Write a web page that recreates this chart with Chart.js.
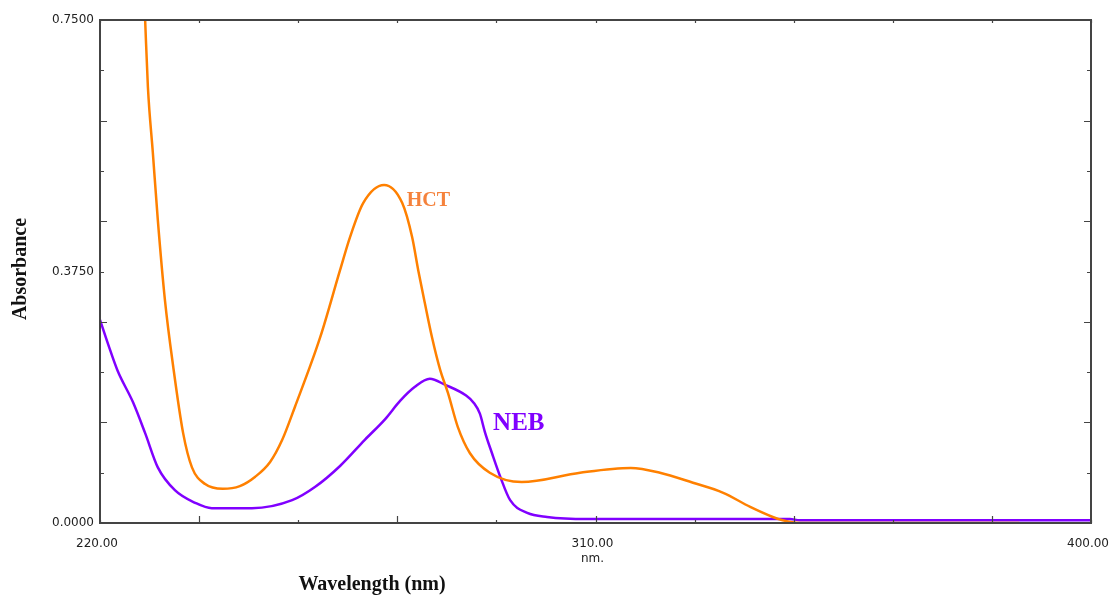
<!DOCTYPE html>
<html>
<head>
<meta charset="utf-8">
<script src="https://cdn.jsdelivr.net/npm/chart.js@4.4.0/dist/chart.umd.min.js"></script>
<style>
  body { margin: 0; background: #fff; }
  canvas { display: block; }
</style>
</head>
<body>
<canvas id="spectrum" width="1111" height="597"></canvas>
<script>
// Spektrum HCT (oranye)
const hctWavelength = [228.2, 228.7, 229.6, 230.5, 231.8, 233.3, 235.1, 236.7, 239.1, 242.3, 245.4, 248.2,
    250.9, 253.1, 255.4, 260.0, 263.6, 265.4, 267.8, 271.6, 274.9, 276.7, 277.8, 279.0, 280.3, 281.8,
    283.2, 285.0, 287.2, 290.8, 296.6, 307.2, 316.4, 321.7, 327.7, 333.2, 338.1, 342.2, 344.0, 347.1, 387.0];
const hctAbsorbance = [0.750, 0.650, 0.552, 0.452, 0.332, 0.233, 0.134, 0.083, 0.058, 0.051, 0.055, 0.069,
    0.091, 0.124, 0.173, 0.277, 0.377, 0.426, 0.477, 0.504, 0.477, 0.426, 0.377, 0.328, 0.277, 0.228,
    0.194, 0.143, 0.104, 0.075, 0.061, 0.075, 0.082, 0.075, 0.060, 0.045, 0.024, 0.009, 0.004, 0.000, 0.000];

// Spektrum NEB (ungu)
const nebWavelength = [220.0, 221.5, 223.2, 226.0, 228.2, 230.5, 233.6, 237.3, 240.3, 247.6, 254.9, 259.1,
    263.6, 268.1, 271.8, 274.5, 277.2, 279.9, 282.7, 286.5, 287.9, 289.0, 289.9, 291.2, 292.7, 294.5,
    297.6, 301.2, 308.5, 345.3, 347.1, 400.0];
const nebAbsorbance = [0.303, 0.266, 0.227, 0.180, 0.134, 0.083, 0.049, 0.030, 0.022, 0.022, 0.034, 0.054,
    0.085, 0.124, 0.155, 0.182, 0.203, 0.215, 0.206, 0.190, 0.179, 0.163, 0.136, 0.104, 0.069, 0.034,
    0.015, 0.009, 0.006, 0.006, 0.004, 0.004];

// Label sumbu
const xTickValues = [220, 238, 256, 274, 292, 310, 328, 346, 364, 382, 400];
const xLabelValues = [220, 310, 400];
const yTickValues = [0, 0.075, 0.15, 0.225, 0.3, 0.375, 0.45, 0.525, 0.6, 0.675, 0.75];
const yLabelValues = [0, 0.375, 0.75];

function toPoints(xs, ys) {
    return xs.map((x, i) => ({ x: x, y: ys[i] }));
}

/* Plugin: bingkai, tick ke dalam, judul sumbu dan label kurva */
const frameAndText = {
    id: 'frameAndText',
    afterDraw(chart) {
        const ctx = chart.ctx;
        const a = chart.chartArea;
        const xs = chart.scales.x;
        const ys = chart.scales.y;
        ctx.save();
        ctx.strokeStyle = '#444';
        ctx.lineWidth = 2;
        ctx.strokeRect(a.left, a.top, a.right - a.left, a.bottom - a.top);

        ctx.lineWidth = 1.2;
        ctx.beginPath();
        xTickValues.forEach((v, i) => {
            const px = Math.round(xs.getPixelForValue(v)) + 0.5;
            const len = i % 2 ? 7 : 3;
            ctx.moveTo(px, a.bottom); ctx.lineTo(px, a.bottom - len);
            ctx.moveTo(px, a.top); ctx.lineTo(px, a.top + 3);
        });
        yTickValues.forEach((v, i) => {
            const py = Math.round(ys.getPixelForValue(v)) + 0.5;
            const len = i % 2 ? 4 : 7;
            ctx.moveTo(a.left, py); ctx.lineTo(a.left + len, py);
            ctx.moveTo(a.right, py); ctx.lineTo(a.right - len, py);
        });
        ctx.stroke();

        // judul sumbu
        ctx.fillStyle = '#111';
        ctx.font = 'bold 20px "Liberation Serif", "Times New Roman", serif';
        ctx.textAlign = 'center';
        ctx.textBaseline = 'middle';
        ctx.fillText('Wavelength (nm)', 372, 585);
        ctx.save();
        ctx.translate(21, 269);
        ctx.rotate(-Math.PI / 2);
        ctx.fillText('Absorbance', 0, 0);
        ctx.restore();

        // label kurva
        ctx.textAlign = 'left';
        ctx.textBaseline = 'alphabetic';
        ctx.fillStyle = '#f5823c';
        ctx.font = 'bold 20px "Liberation Serif", "Times New Roman", serif';
        ctx.fillText('HCT', xs.getPixelForValue(275.7), ys.getPixelForValue(0.472));
        ctx.fillStyle = '#8000ff';
        ctx.font = 'bold 25px "Liberation Serif", "Times New Roman", serif';
        ctx.fillText('NEB', xs.getPixelForValue(291.4), ys.getPixelForValue(0.139));
        ctx.restore();
    }
};

new Chart(document.getElementById('spectrum'), {
    type: 'line',
    data: {
        datasets: [{
            label: 'HCT',
            data: toPoints(hctWavelength, hctAbsorbance),
            borderColor: '#ff8000',
            borderWidth: 2.5,
            pointRadius: 0,
            cubicInterpolationMode: 'monotone'
        }, {
            label: 'NEB',
            data: toPoints(nebWavelength, nebAbsorbance),
            borderColor: '#8000ff',
            borderWidth: 2.5,
            pointRadius: 0,
            cubicInterpolationMode: 'monotone'
        }]
    },
    options: {
        responsive: false,
        animation: false,
        events: [],
        layout: { padding: { left: 0, top: 20, right: 20, bottom: 0 } },
        plugins: { legend: { display: false }, tooltip: { enabled: false } },
        scales: {
            x: {
                type: 'linear',
                min: 220,
                max: 400,
                afterFit: s => { s.height = 74; s.paddingLeft = 0; s.paddingRight = 0; },
                afterBuildTicks: s => { s.ticks = xLabelValues.map(v => ({ value: v })); },
                grid: { display: false, drawTicks: false },
                border: { display: false },
                ticks: {
                    padding: 14,
                    labelOffset: -3,
                    color: '#222',
                    maxRotation: 0,
                    font: { family: '"DejaVu Sans", sans-serif', size: 12, lineHeight: 1.2 },
                    callback: v => v === 310 ? ['310.00', 'nm.'] : v.toFixed(2)
                }
            },
            y: {
                min: 0,
                max: 0.75,
                afterFit: s => { s.width = 100; s.paddingTop = 0; s.paddingBottom = 0; },
                afterBuildTicks: s => { s.ticks = yLabelValues.map(v => ({ value: v })); },
                grid: { display: false, drawTicks: false },
                border: { display: false },
                ticks: {
                    padding: 6,
                    color: '#222',
                    font: { family: '"DejaVu Sans", sans-serif', size: 12 },
                    callback: v => v.toFixed(4)
                }
            }
        }
    },
    plugins: [frameAndText]
});
</script>
</body>
</html>
